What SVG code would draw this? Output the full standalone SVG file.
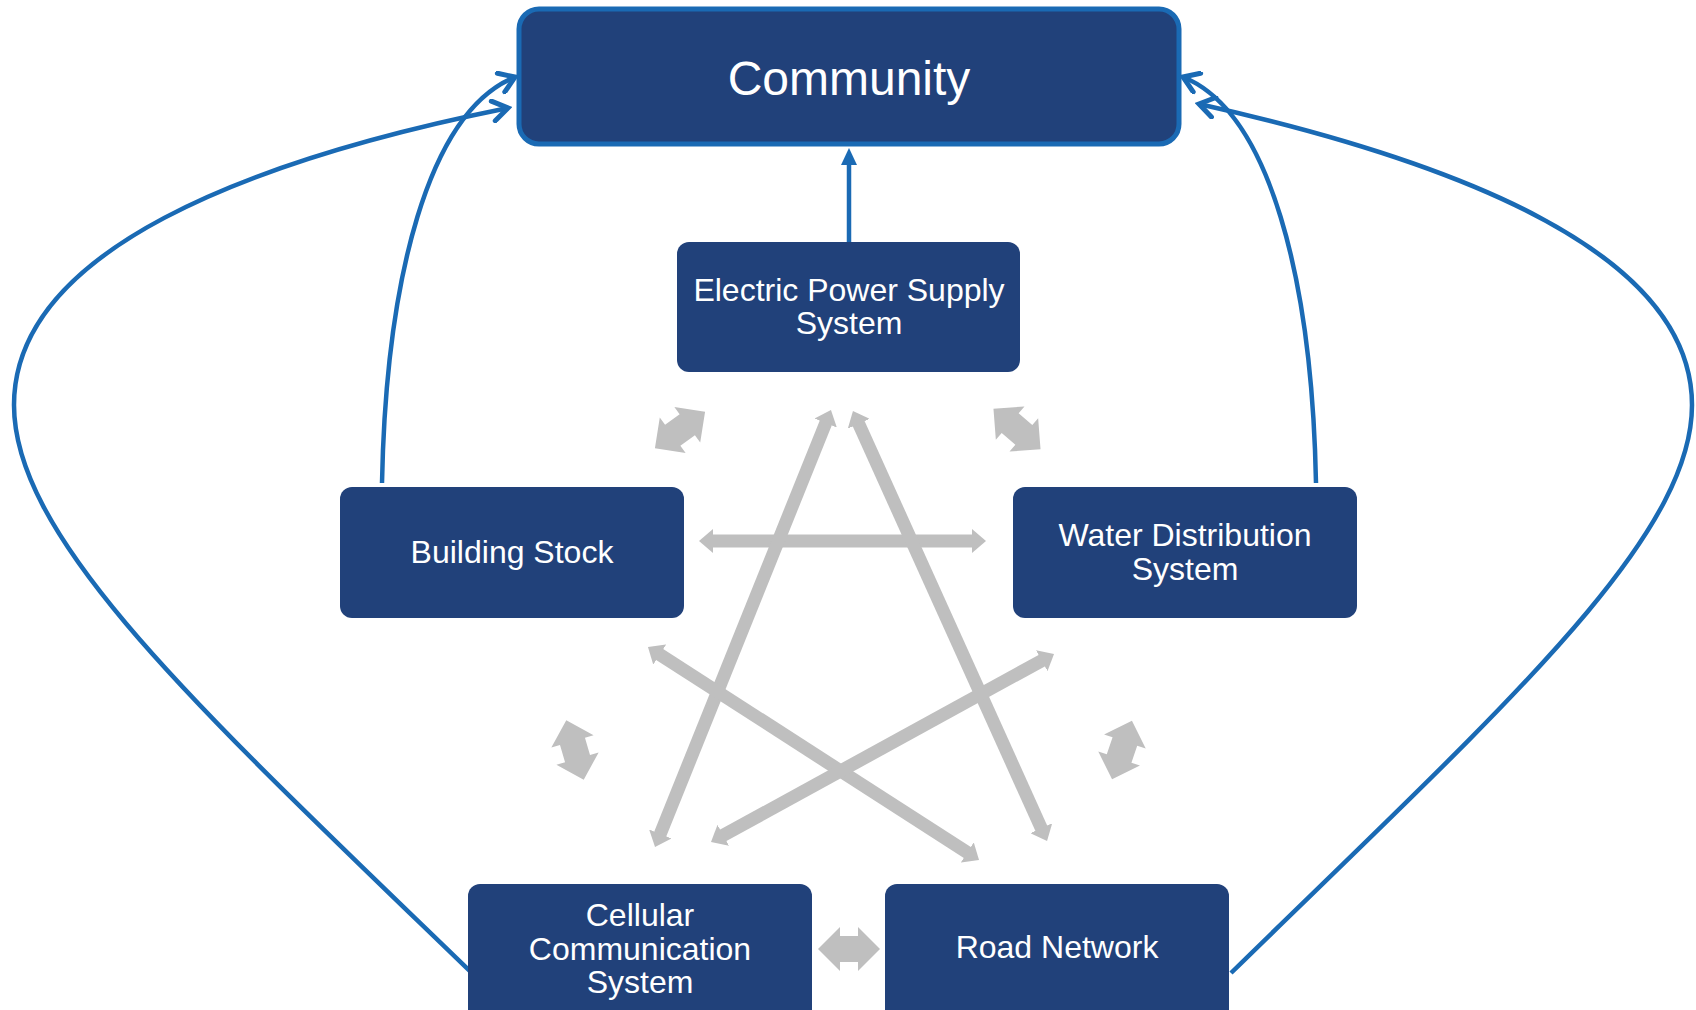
<svg xmlns="http://www.w3.org/2000/svg" width="1696" height="1010" viewBox="0 0 1696 1010">
  <style>
    .box { fill: #21417A; }
    .label { fill: #FFFFFF; font-family: "Liberation Sans", Arial, sans-serif; font-size: 32px; text-anchor: middle; }
    .title { font-size: 48px; }
    .link { fill: none; stroke: #1A6AB4; stroke-width: 4.5; }
    .tie { stroke: #BFBFBF; stroke-width: 13; fill: none; }
    .block { fill: #BFBFBF; }
  </style>
  <defs>
    <marker id="chev" markerUnits="userSpaceOnUse" viewBox="-18 -12 22 24" markerWidth="22" markerHeight="24" refX="0" refY="0" orient="auto">
      <path d="M-15,-10 L0,0 L-15,10" fill="none" stroke="#1A6AB4" stroke-width="5" stroke-linecap="round"/>
    </marker>
    <marker id="tri" markerUnits="userSpaceOnUse" viewBox="0 -10 18 20" markerWidth="18" markerHeight="20" refX="1" refY="0" orient="auto">
      <path d="M0,-8 L17,0 L0,8 Z" fill="#1A6AB4"/>
    </marker>
    <marker id="grey" markerUnits="userSpaceOnUse" viewBox="0 0 14 24" markerWidth="14" markerHeight="24" refX="1" refY="12" orient="auto-start-reverse">
      <path d="M0,0 L14,12 L0,24 Z" fill="#BFBFBF"/>
    </marker>
    <path id="twoway" d="M-31,0 L-9,-22 L-9,-13 L9,-13 L9,-22 L31,0 L9,22 L9,13 L-9,13 L-9,22 Z"/>
  </defs>

  <!-- connectors -->
  <g id="connectors">
    <!-- grey mutual dependencies between infrastructure systems -->
    <line class="tie" x1="712" y1="541" x2="973" y2="541" marker-start="url(#grey)" marker-end="url(#grey)"/>
    <line class="tie" x1="826.1" y1="422.1" x2="659.9" y2="834.9" marker-start="url(#grey)" marker-end="url(#grey)"/>
    <line class="tie" x1="858.3" y1="422.9" x2="1041.7" y2="829.1" marker-start="url(#grey)" marker-end="url(#grey)"/>
    <line class="tie" x1="658.9" y1="654" x2="968.1" y2="853" marker-start="url(#grey)" marker-end="url(#grey)"/>
    <line class="tie" x1="1042.6" y1="660.2" x2="722.4" y2="835.8" marker-start="url(#grey)" marker-end="url(#grey)"/>
    <use href="#twoway" class="block" transform="translate(680,430) rotate(-36)"/>
    <use href="#twoway" class="block" transform="translate(1017,429) rotate(40.6)"/>
    <use href="#twoway" class="block" transform="translate(575,750) rotate(73.7)"/>
    <use href="#twoway" class="block" transform="translate(1122,750) rotate(-71.3)"/>
    <use href="#twoway" class="block" transform="translate(849,949)"/>

    <!-- blue links into the community -->
    <line class="link" x1="849" y1="244" x2="849" y2="164" marker-end="url(#tri)"/>
    <path class="link" d="M382,483 C386,280 428,112 515,77" marker-end="url(#chev)"/>
    <path class="link" d="M1316,483 C1312,280 1270,112 1183,77" marker-end="url(#chev)"/>
    <path class="link" d="M476,977 C200,710 14,540 14,405 C14,250 250,160 508,108" marker-end="url(#chev)"/>
    <path class="link" d="M1231,973 C1500,710 1692,540 1692,405 C1692,250 1450,160 1199,104" marker-end="url(#chev)"/>
  </g>

  <!-- nodes -->
  <g id="community">
    <rect class="box" x="519" y="9" width="660" height="135" rx="20" stroke="#1A6AB4" stroke-width="5"/>
    <text class="label title" x="849" y="95">Community</text>
  </g>
  <g id="electric-power">
    <rect class="box" x="677" y="242" width="343" height="130" rx="12"/>
    <text class="label" x="849" y="301">Electric Power Supply</text>
    <text class="label" x="849" y="334">System</text>
  </g>
  <g id="building-stock">
    <rect class="box" x="340" y="487" width="344" height="131" rx="12"/>
    <text class="label" x="512" y="563">Building Stock</text>
  </g>
  <g id="water-distribution">
    <rect class="box" x="1013" y="487" width="344" height="131" rx="12"/>
    <text class="label" x="1185" y="546">Water Distribution</text>
    <text class="label" x="1185" y="580">System</text>
  </g>
  <g id="cellular-communication">
    <rect class="box" x="468" y="884" width="344" height="140" rx="12"/>
    <text class="label" x="640" y="926">Cellular</text>
    <text class="label" x="640" y="960">Communication</text>
    <text class="label" x="640" y="993">System</text>
  </g>
  <g id="road-network">
    <rect class="box" x="885" y="884" width="344" height="140" rx="12"/>
    <text class="label" x="1057" y="958">Road Network</text>
  </g>
</svg>
